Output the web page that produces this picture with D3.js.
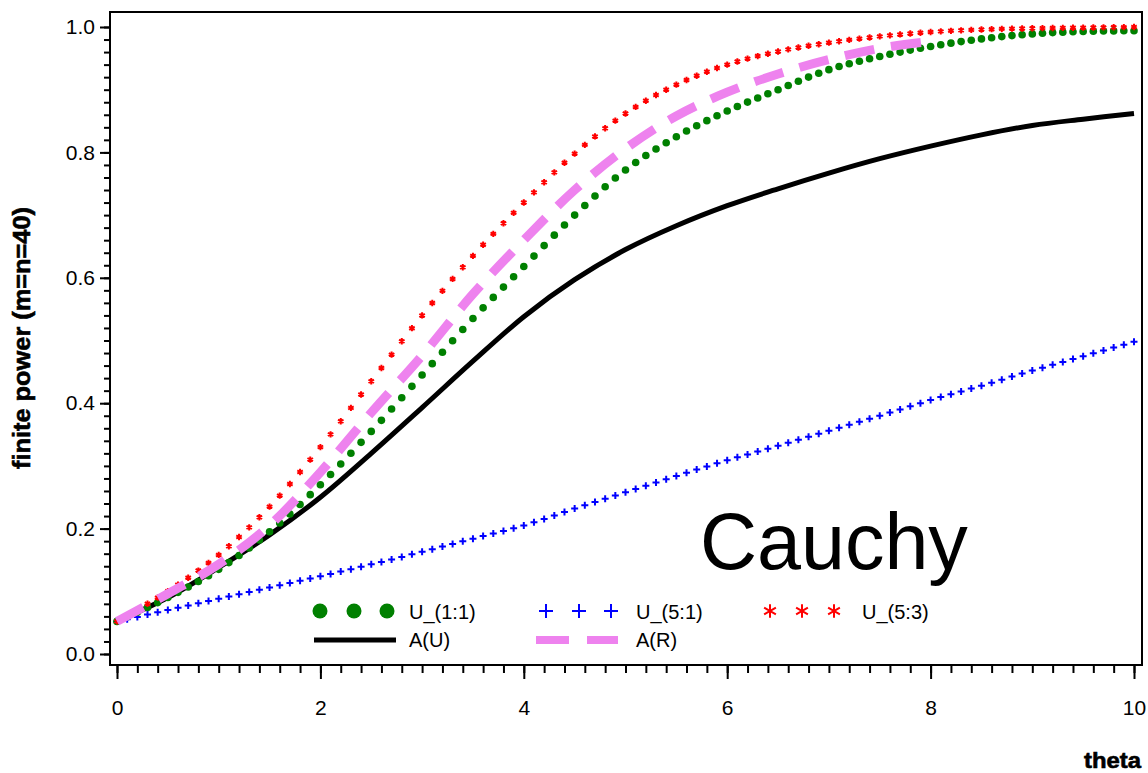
<!DOCTYPE html>
<html>
<head>
<meta charset="utf-8">
<script src="https://cdnjs.cloudflare.com/ajax/libs/d3/7.8.5/d3.min.js"></script>
<style>
  body { margin: 0; background: #fff; }
  text { font-family: "Liberation Sans", Arial, sans-serif; }
</style>
</head>
<body>
<div id="chart"></div>
<script>
// data (theta step 0.5)
var theta = [0, 0.5, 1, 1.5, 2, 2.5, 3, 3.5, 4, 4.5, 5, 5.5, 6, 6.5, 7, 7.5, 8, 8.5, 9, 9.5, 10];
var u11 = [0.052, 0.09, 0.135, 0.195, 0.27, 0.355, 0.445, 0.535, 0.618, 0.70, 0.772, 0.825, 0.866, 0.9, 0.932, 0.953, 0.969, 0.981, 0.989, 0.993, 0.994];
var u51 = [0.052, 0.07, 0.088, 0.106, 0.124, 0.143, 0.163, 0.184, 0.205, 0.232, 0.258, 0.284, 0.309, 0.332, 0.356, 0.38, 0.405, 0.428, 0.452, 0.475, 0.498];
var u53 = [0.052, 0.10, 0.158, 0.235, 0.33, 0.435, 0.54, 0.635, 0.72, 0.798, 0.862, 0.908, 0.94, 0.961, 0.975, 0.985, 0.992, 0.996, 0.998, 0.999, 1.0];
var aU  = [0.052, 0.09, 0.138, 0.19, 0.25, 0.32, 0.393, 0.467, 0.538, 0.597, 0.645, 0.683, 0.715, 0.742, 0.767, 0.79, 0.81, 0.828, 0.843, 0.853, 0.862];
// A(R) is only visible up to theta = 8
var aR  = [0.052, 0.096, 0.143, 0.205, 0.29, 0.385, 0.476, 0.574, 0.66, 0.74, 0.806, 0.858, 0.896, 0.925, 0.948, 0.966, 0.977];

var xTicks = [0, 2, 4, 6, 8, 10];
var yTicks = [0, 0.2, 0.4, 0.6, 0.8, 1.0];

var width = 1148, height = 773;

var svg = d3.select("#chart")
    .append("svg")
    .attr("width", width)
    .attr("height", height);

var x = d3.scaleLinear().domain([0, 10]).range([117, 1134]);
var y = d3.scaleLinear().domain([0, 1]).range([654, 27]);

// frame
svg.append("rect")
    .attr("x", 110).attr("y", 12)
    .attr("width", 1032).attr("height", 653)
    .attr("fill", "none")
    .attr("stroke", "#000")
    .attr("stroke-width", 2);

// x axis: minor then major ticks
svg.append("g")
    .attr("transform", "translate(0,666)")
    .call(d3.axisBottom(x).tickValues(d3.range(0, 51).map(function(i) { return i / 5; })).tickSize(7).tickFormat(""));
svg.append("g")
    .attr("transform", "translate(0,666)")
    .call(d3.axisBottom(x).tickValues(xTicks).tickSize(13).tickPadding(21).tickFormat(d3.format("d")));

// y axis
svg.append("g")
    .attr("transform", "translate(109,0)")
    .call(d3.axisLeft(y).tickValues(d3.range(0, 51).map(function(i) { return i / 50; })).tickSize(5).tickFormat(""));
svg.append("g")
    .attr("transform", "translate(109,0)")
    .call(d3.axisLeft(y).tickValues(yTicks).tickSize(9).tickPadding(5).tickFormat(d3.format(".1f")));

svg.selectAll(".domain").remove();
svg.selectAll(".tick line").attr("stroke", "#000").attr("stroke-width", 2);
svg.selectAll(".tick text")
    .attr("fill", "#000")
    .style("font-family", "'Liberation Sans', Arial, sans-serif")
    .style("font-size", "21px");

// axis titles
svg.append("text")
    .attr("transform", "translate(30,338) rotate(-90)")
    .attr("text-anchor", "middle")
    .attr("font-weight", "bold")
    .attr("font-size", 23)
    .attr("textLength", 262)
    .attr("lengthAdjust", "spacingAndGlyphs")
    .attr("stroke", "#000")
    .attr("stroke-width", 0.6)
    .text("finite power (m=n=40)");

svg.append("text")
    .attr("x", 1141).attr("y", 768)
    .attr("text-anchor", "end")
    .attr("font-weight", "bold")
    .attr("font-size", 22)
    .attr("textLength", 57)
    .attr("lengthAdjust", "spacingAndGlyphs")
    .attr("stroke", "#000")
    .attr("stroke-width", 0.6)
    .text("theta");

svg.append("text")
    .attr("x", 700).attr("y", 569)
    .attr("font-size", 79)
    .text("Cauchy");

var line = d3.line()
    .x(function(d) { return x(d[0]); })
    .y(function(d) { return y(d[1]); })
    .curve(d3.curveCatmullRom.alpha(0.5));

function pairs(vals) {
    return vals.map(function(v, i) { return [theta[i], v]; });
}

// find the points of a drawn path at every 0.1 of theta
function sampleAtTheta(node, maxTheta) {
    var total = node.getTotalLength();
    var pts = [];
    for (var i = 0; i <= maxTheta * 10; i++) {
        var tx = x(i / 10);
        var lo = 0, hi = total;
        for (var k = 0; k < 30; k++) {
            var mid = (lo + hi) / 2;
            if (node.getPointAtLength(mid).x < tx) lo = mid; else hi = mid;
        }
        var p = node.getPointAtLength((lo + hi) / 2);
        pts.push([p.x, p.y]);
    }
    return pts;
}

// helper paths (invisible) for marker series
function guide(vals) {
    return svg.append("path")
        .attr("d", line(pairs(vals)))
        .attr("fill", "none")
        .attr("stroke", "none")
        .node();
}

// U_(5:1) blue plus
svg.append("g").selectAll("path")
    .data(sampleAtTheta(guide(u51), 10))
    .enter().append("path")
    .attr("transform", function(d) { return "translate(" + d[0] + "," + d[1] + ")"; })
    .attr("d", "M-3.5,0H3.5M0,-3.5V3.5")
    .attr("stroke", "#0000ff")
    .attr("stroke-width", 2)
    .attr("fill", "none");

// A(U) black solid
svg.append("path")
    .attr("d", line(pairs(aU)))
    .attr("fill", "none")
    .attr("stroke", "#000")
    .attr("stroke-width", 5);

// U_(1:1) green dots
svg.append("g").selectAll("circle")
    .data(sampleAtTheta(guide(u11), 10))
    .enter().append("circle")
    .attr("cx", function(d) { return d[0]; })
    .attr("cy", function(d) { return d[1]; })
    .attr("r", 3.8)
    .attr("fill", "#008000");

// U_(5:3) red asterisk
var star = d3.symbol().type(d3.symbolAsterisk).size(28)();
svg.append("g").selectAll("path")
    .data(sampleAtTheta(guide(u53), 10))
    .enter().append("path")
    .attr("transform", function(d) { return "translate(" + d[0] + "," + d[1] + ")"; })
    .attr("d", star)
    .attr("stroke", "#ff0000")
    .attr("stroke-width", 2)
    .attr("fill", "none");

// A(R) pink dashed
svg.append("path")
    .attr("d", line(aR.map(function(v, i) { return [theta[i], v]; })))
    .attr("fill", "none")
    .attr("stroke", "#ee82ee")
    .attr("stroke-width", 9)
    .attr("stroke-dasharray", "30,17");

// legend
var leg = svg.append("g").attr("font-size", 20);
[320, 354, 387].forEach(function(cx) {
    leg.append("circle").attr("cx", cx).attr("cy", 611).attr("r", 7.5).attr("fill", "#008000");
});
[546, 579, 611].forEach(function(cx) {
    leg.append("path").attr("transform", "translate(" + cx + ",611)")
        .attr("d", "M-7,0H7M0,-7V7").attr("stroke", "#0000ff").attr("stroke-width", 2);
});
var bigStar = d3.symbol().type(d3.symbolAsterisk).size(130)();
[770, 802, 834].forEach(function(cx) {
    leg.append("path").attr("transform", "translate(" + cx + ",611)")
        .attr("d", bigStar).attr("stroke", "#ff0000").attr("stroke-width", 2).attr("fill", "none");
});
leg.append("line").attr("x1", 314).attr("x2", 396).attr("y1", 640).attr("y2", 640)
    .attr("stroke", "#000").attr("stroke-width", 5);
leg.append("line").attr("x1", 536).attr("x2", 618).attr("y1", 640).attr("y2", 640)
    .attr("stroke", "#ee82ee").attr("stroke-width", 8).attr("stroke-dasharray", "33,18");
leg.append("text").attr("x", 409).attr("y", 619).text("U_(1:1)");
leg.append("text").attr("x", 636).attr("y", 619).text("U_(5:1)");
leg.append("text").attr("x", 862).attr("y", 619).text("U_(5:3)");
leg.append("text").attr("x", 409).attr("y", 647).text("A(U)");
leg.append("text").attr("x", 636).attr("y", 647).text("A(R)");
</script>
</body>
</html>
